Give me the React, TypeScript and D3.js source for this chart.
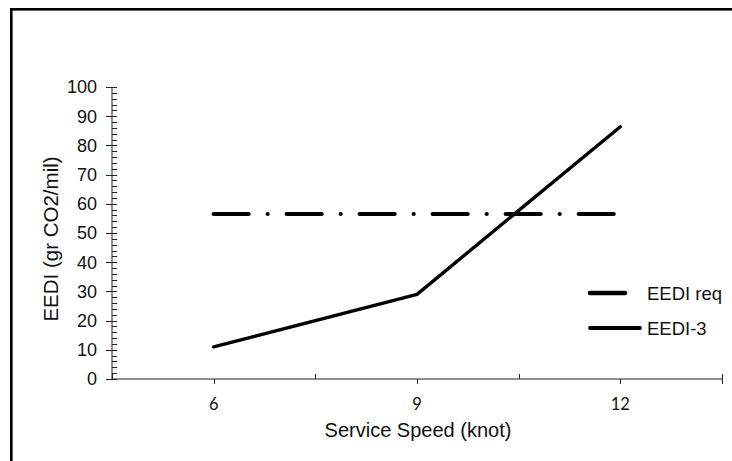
import { useEffect, useRef } from "react";
import * as d3 from "d3";

// chart values
const speeds = ["6", "9", "12"];
const eedi3 = [11, 29, 86.4];
const eediReq = [56.5, 56.5, 56.5];
const seriesNames = ["EEDI req", "EEDI-3"];

const App = () => {
  const ref = useRef<SVGSVGElement>(null);

  useEffect(() => {
    draw();
  }, []);

  const draw = () => {
    const width = 732;
    const height = 461;
    const margin = { top: 87, right: 10, bottom: 82, left: 112 };

    const svg = d3.select(ref.current).attr("width", width).attr("height", height);
    svg.selectAll("*").remove();

    svg.append("rect").attr("width", width).attr("height", height).attr("fill", "#fff");

    // outer frame, runs off right and bottom edges
    svg
      .append("rect")
      .attr("x", 11.3)
      .attr("y", 9.3)
      .attr("width", 760)
      .attr("height", 500)
      .attr("fill", "none")
      .attr("stroke", "#000")
      .attr("stroke-width", 2.6);

    const xScale = d3
      .scaleBand()
      .domain(speeds)
      .range([margin.left, width - margin.right])
      .padding(0);

    const yScale = d3
      .scaleLinear()
      .domain([0, 100])
      .range([height - margin.bottom, margin.top]);

    const xc = (d: string) => (xScale(d) as number) + xScale.bandwidth() / 2;
    const y0 = yScale(0);

    // y axis
    const yAxis = svg.append("g").attr("stroke", "#222").attr("stroke-width", 1);
    yAxis
      .append("line")
      .attr("x1", margin.left)
      .attr("x2", margin.left)
      .attr("y1", yScale(100))
      .attr("y2", y0);
    yAxis
      .selectAll("line.minor")
      .data(d3.range(0, 101, 2).filter((v) => v % 10 !== 0))
      .join("line")
      .attr("class", "minor")
      .attr("x1", margin.left)
      .attr("x2", margin.left + 5)
      .attr("y1", (d) => Math.round(yScale(d)) + 0.5)
      .attr("y2", (d) => Math.round(yScale(d)) + 0.5);
    yAxis
      .selectAll("line.major")
      .data(yScale.ticks(10))
      .join("line")
      .attr("class", "major")
      .attr("x1", margin.left - 6)
      .attr("x2", margin.left + 5)
      .attr("y1", (d) => Math.round(yScale(d)) + 0.5)
      .attr("y2", (d) => Math.round(yScale(d)) + 0.5);
    svg
      .append("g")
      .selectAll("text")
      .data(yScale.ticks(10))
      .join("text")
      .attr("x", 97)
      .attr("y", (d) => yScale(d))
      .attr("dy", "0.36em")
      .attr("text-anchor", "end")
      .attr("font-family", "Liberation Sans, Arial, sans-serif")
      .attr("font-size", 18)
      .attr("fill", "#111")
      .text((d) => d);

    // x axis
    const xAxis = svg.append("g").attr("stroke", "#222").attr("stroke-width", 1);
    xAxis
      .append("line")
      .attr("x1", margin.left)
      .attr("x2", width - margin.right)
      .attr("y1", y0)
      .attr("y2", y0);
    const bounds = [...speeds.map((d) => xScale(d) as number), width - margin.right];
    xAxis
      .selectAll("line.bound")
      .data(bounds)
      .join("line")
      .attr("class", "bound")
      .attr("x1", (d) => Math.round(d) + 0.5)
      .attr("x2", (d) => Math.round(d) + 0.5)
      .attr("y1", y0 - 5)
      .attr("y2", (d, i) => (i === bounds.length - 1 ? y0 + 5 : y0));
    xAxis
      .selectAll("line.center")
      .data(speeds)
      .join("line")
      .attr("class", "center")
      .attr("x1", (d) => Math.round(xc(d)) + 0.5)
      .attr("x2", (d) => Math.round(xc(d)) + 0.5)
      .attr("y1", y0)
      .attr("y2", y0 + 5);
    svg
      .append("g")
      .selectAll("text")
      .data(speeds)
      .join("text")
      .attr("x", (d) => xc(d))
      .attr("y", 410)
      .attr("text-anchor", "middle")
      .attr("font-family", "Lato, sans-serif")
      .attr("font-size", 16.5)
      .attr("fill", "#111")
      .text((d) => d);

    // axis titles
    svg
      .append("text")
      .attr("x", 418)
      .attr("y", 437)
      .attr("text-anchor", "middle")
      .attr("font-family", "Liberation Sans, Arial, sans-serif")
      .attr("font-size", 20)
      .attr("fill", "#111")
      .text("Service Speed (knot)");
    svg
      .append("text")
      .attr("transform", `translate(58,239) rotate(-90)`)
      .attr("text-anchor", "middle")
      .attr("font-family", "Liberation Sans, Arial, sans-serif")
      .attr("font-size", 20.5)
      .attr("fill", "#111")
      .text("EEDI (gr CO2/mil)");

    // series
    const line = d3
      .line<number>()
      .x((d, i) => xc(speeds[i]))
      .y((d) => yScale(d));

    svg
      .append("path")
      .datum(eediReq)
      .attr("d", line)
      .attr("fill", "none")
      .attr("stroke", "#000")
      .attr("stroke-width", 4.2)
      .attr("stroke-linecap", "round")
      .attr("stroke-dasharray", "35 19 0.01 19");

    svg
      .append("path")
      .datum(eedi3)
      .attr("d", line)
      .attr("fill", "none")
      .attr("stroke", "#000")
      .attr("stroke-width", 3.4)
      .attr("stroke-linejoin", "round")
      .attr("stroke-linecap", "round");

    // legend
    const legend = svg.append("g");
    const legendY = [293, 328];
    const legendEnd = [627, 642];
    legend
      .selectAll("line")
      .data(seriesNames)
      .join("line")
      .attr("x1", 590)
      .attr("x2", (d, i) => legendEnd[i] - 2)
      .attr("y1", (d, i) => legendY[i])
      .attr("y2", (d, i) => legendY[i])
      .attr("stroke", "#000")
      .attr("stroke-width", (d, i) => (i === 0 ? 4.5 : 3.8))
      .attr("stroke-linecap", "round");
    legend
      .selectAll("text")
      .data(seriesNames)
      .join("text")
      .attr("x", 647)
      .attr("y", (d, i) => legendY[i])
      .attr("dy", "0.36em")
      .attr("font-family", "Liberation Sans, Arial, sans-serif")
      .attr("font-size", 18.5)
      .attr("fill", "#111")
      .text((d) => d);
  };

  return (
    <div style={{ position: "absolute", left: 0, top: 0 }}>
      <svg ref={ref} style={{ display: "block" }}></svg>
    </div>
  );
};

export default App;
